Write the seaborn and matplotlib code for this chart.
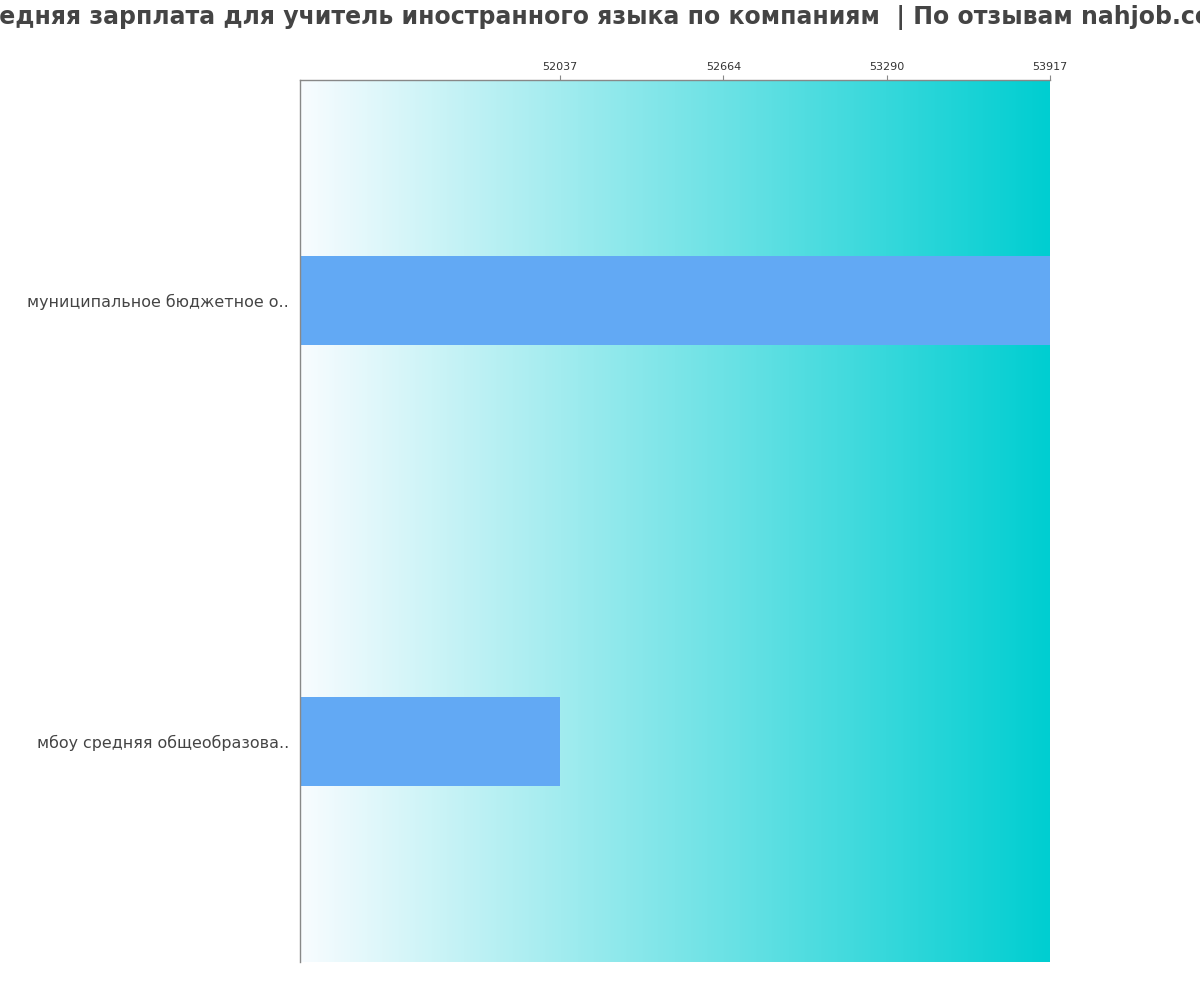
import numpy as np
import pandas as pd
import seaborn as sns
import matplotlib
matplotlib.use('Agg')
import matplotlib.pyplot as plt
from matplotlib.colors import LinearSegmentedColormap

companies = ['муниципальное бюджетное о..', 'мбоу средняя общеобразова..']
salaries = [53917, 52037]
tick_values = [52037, 52664, 53290, 53917]
title = 'Средняя зарплата для учитель иностранного языка по компаниям  | По отзывам nahjob.com'

df = pd.DataFrame({'company': companies, 'salary': salaries})

sns.set_style('white')
plt.rcParams['font.family'] = 'sans-serif'
plt.rcParams['font.sans-serif'] = ['DejaVu Sans']

fig = plt.figure(figsize=(12, 10), dpi=100)
ax = fig.add_axes([0.25, 0.038, 0.625, 0.882])

x_left = 51040
x_right = max(salaries)

# gradient background
cmap = LinearSegmentedColormap.from_list('bg', ['#f8fcff', '#00ced1'])
grad = np.linspace(0, 1, 256).reshape(1, -1)
ax.imshow(grad, cmap=cmap, aspect='auto', extent=[x_left, x_right, 1.5, -0.5], zorder=0)

sns.barplot(data=df, x='salary', y='company', orient='h', color='#62a9f4',
            width=0.2, saturation=1, linewidth=0, ax=ax, zorder=2)

ax.set_xlim(x_left, x_right)
ax.set_ylim(1.5, -0.5)
ax.set_xlabel('')
ax.set_ylabel('')
ax.xaxis.tick_top()
ax.set_xticks(tick_values)
ax.set_xticklabels([str(v) for v in tick_values])
ax.tick_params(axis='x', length=3.6, color='#888888', labelsize=8, labelcolor='#333333', pad=2)
ax.tick_params(axis='y', length=0, labelsize=11.4, labelcolor='#444444', pad=8)

for s in ['right', 'bottom']:
    ax.spines[s].set_visible(False)
for s in ['top', 'left']:
    ax.spines[s].set_color('#888888')
    ax.spines[s].set_linewidth(1)

fig.suptitle(title, x=0.5, y=0.995, fontsize=17, fontweight='bold', color='#444444', va='top')

fig.savefig('out.png', dpi=100)
